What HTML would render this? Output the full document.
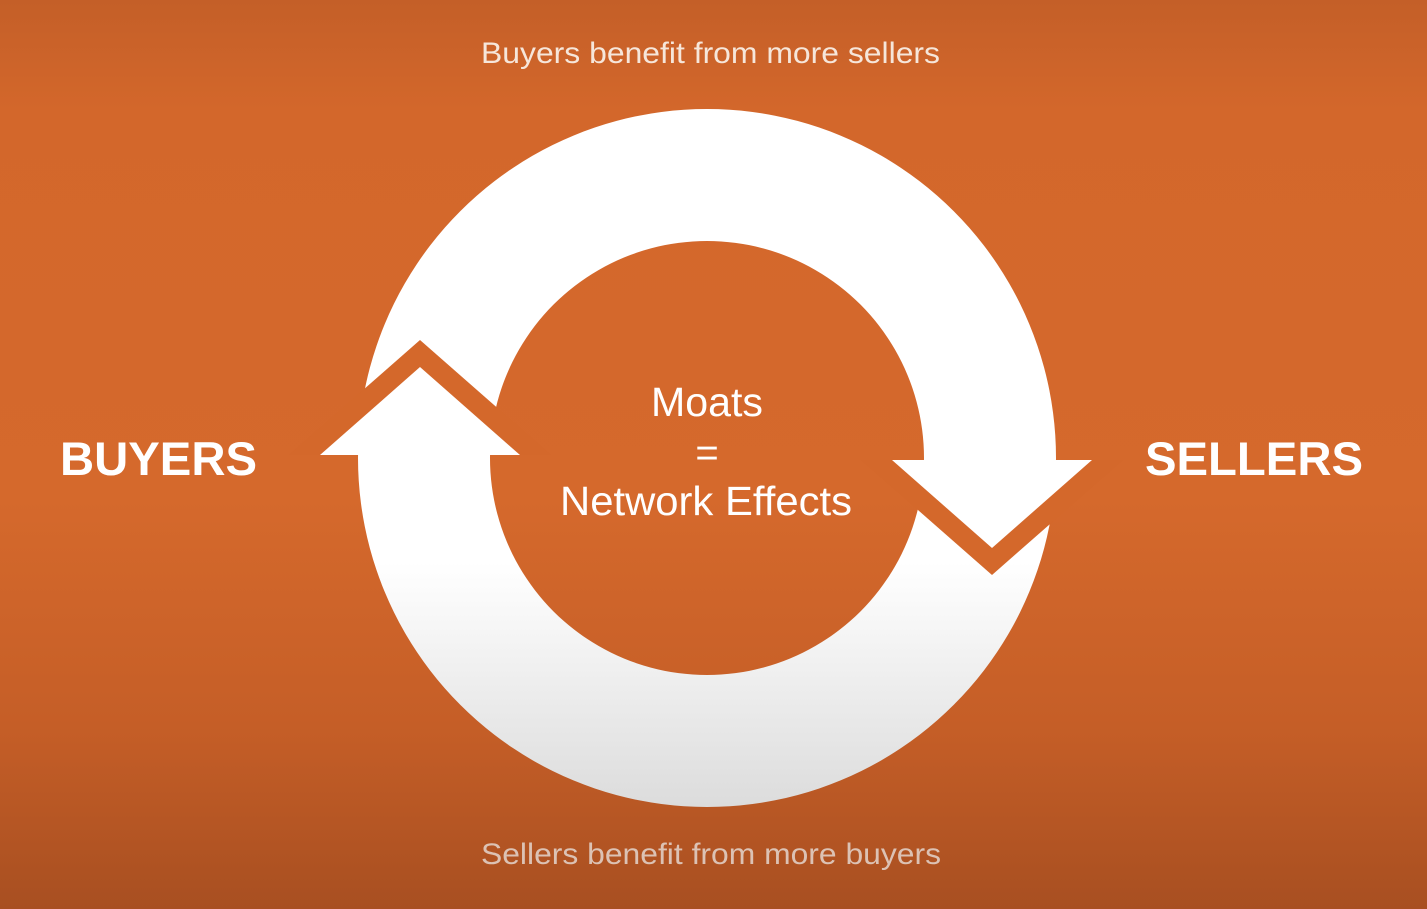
<!DOCTYPE html>
<html><head><style>
html,body{margin:0;padding:0;width:1427px;height:909px;overflow:hidden}
body{background:linear-gradient(to bottom,#c45f28 0%,#d3672b 12%,#d5692c 55%,#c55e27 80%,#a84f21 100%);font-family:"Liberation Sans",sans-serif}
svg{position:absolute;left:0;top:0}
</style></head><body>
<svg width="1427" height="909" viewBox="0 0 1427 909">
<defs>
<linearGradient id="g" x1="0" y1="0" x2="0" y2="1" gradientUnits="objectBoundingBox">
<stop offset="0" stop-color="#ffffff"/><stop offset="0.65" stop-color="#ffffff"/><stop offset="1" stop-color="#dcdcdc"/>
</linearGradient>
</defs>
<path fill="url(#g)" fill-rule="evenodd" d="M707,109 a349,349 0 1,0 0.01,0 Z M707,241 a217,217 0 1,1 -0.01,0 Z"/>
<polygon fill="#d4682b" points="420,340 551,455 289,455"/>
<polygon fill="#ffffff" points="420,367 520,455 320,455"/>
<polygon fill="#d4682b" points="992,575 1123,460 861,460"/>
<polygon fill="#ffffff" points="992,548 1092,460 892,460"/>
<g fill="#fff">
<text x="481" y="63" font-size="30" fill="#f6e6da" textLength="459" lengthAdjust="spacingAndGlyphs">Buyers benefit from more sellers</text>
<text x="481" y="864" font-size="30" fill="#dcc2b4" textLength="460" lengthAdjust="spacingAndGlyphs">Sellers benefit from more buyers</text>
<text x="60" y="475" font-size="47" font-weight="bold" textLength="197" lengthAdjust="spacingAndGlyphs">BUYERS</text>
<text x="1145" y="475" font-size="47" font-weight="bold" textLength="218" lengthAdjust="spacingAndGlyphs">SELLERS</text>
<text x="651" y="416" font-size="41" textLength="112" lengthAdjust="spacingAndGlyphs">Moats</text>
<text x="707" y="466" font-size="40" text-anchor="middle">=</text>
<text x="560" y="515" font-size="41" textLength="292" lengthAdjust="spacingAndGlyphs">Network Effects</text>
</g>
</svg>
</body></html>
